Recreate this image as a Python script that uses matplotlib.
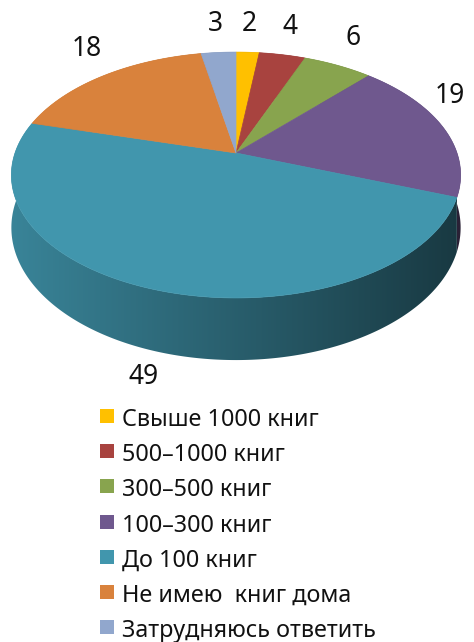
import numpy as np
import matplotlib
matplotlib.use("Agg")
import matplotlib.pyplot as plt
from matplotlib.patches import Polygon, Rectangle
from matplotlib.colors import to_rgb

plt.rcParams['font.family'] = ['Noto Sans', 'DejaVu Sans']

# data (clockwise from 12 o'clock)
labels = ["Свыше 1000 книг", "500–1000 книг", "300–500 книг", "100–300 книг",
          "До 100 книг", "Не имею  книг дома", "Затрудняюсь ответить"]
values = [2, 4, 6, 19, 49, 18, 3]
colors = ["#FFC000", "#A8433F", "#88A44E", "#6F588E", "#4196AD", "#D9823C", "#91A7CD"]

# 3d pie geometry (pixels)
cx, cy = 236, 153
kx, ky = 221, 119
persp = 0.179
thick = 51


def proj(theta, r=1.0):
    d = 1 + persp * r * np.cos(theta)
    return cx + kx * r * np.sin(theta) / d, cy - ky * r * np.cos(theta) / d


fig = plt.figure(figsize=(4.74, 6.42), dpi=100)
ax = fig.add_axes([0, 0, 1, 1])
ax.set_xlim(0, 474)
ax.set_ylim(642, 0)
ax.axis("off")

total = sum(values)
bounds = np.concatenate([[0], np.cumsum(values)]) / total * 2 * np.pi

# side walls: gradient image clipped to each slice's wall, back slices first
xs = np.linspace(0, 474, 300)
shade = np.clip(0.88 - 0.5 * (xs - 10) / 450, 0.3, 1)
mids = [(bounds[i] + bounds[i + 1]) / 2 for i in range(len(values))]
for i in sorted(range(len(values)), key=lambda j: -np.cos(mids[j])):
    th = np.linspace(bounds[i], bounds[i + 1], max(4, values[i] * 8))
    px, py = proj(th)
    drop = thick / (1 + persp * np.cos(th))
    pts = list(zip(px, py)) + list(zip(px[::-1], (py + drop)[::-1]))
    wall = Polygon(pts, closed=True, facecolor="none", edgecolor="none")
    ax.add_patch(wall)
    base = np.array(to_rgb(colors[i]))
    img = (shade[:, None] * base[None, :])[None, :, :]
    im = ax.imshow(img, extent=[0, 474, 400, 0], aspect="auto", interpolation="bilinear")
    im.set_clip_path(wall)

ax.set_xlim(0, 474)
ax.set_ylim(642, 0)

# top face
for i, c in enumerate(colors):
    th = np.linspace(bounds[i], bounds[i + 1], max(4, values[i] * 8))
    px, py = proj(th)
    pts = [(cx, cy)] + list(zip(px, py))
    ax.add_patch(Polygon(pts, closed=True, facecolor=c, edgecolor=c, linewidth=0.5))

# value labels
for i, v in enumerate(values):
    tm = mids[i]
    if np.cos(tm) > 0:
        x = cx + 220 * np.sin(tm)
        y = cy - 93 * np.cos(tm) - 36
    else:
        x, y = proj(tm)
        x, y = x - 11, y + thick / (1 + persp * np.cos(tm)) + 26
    ax.text(x, y, str(v), fontsize=19, ha="center", va="center", color="#111111")

# legend
for i, (lab, c) in enumerate(zip(labels, colors)):
    yc = 416 + i * 35.2
    ax.add_patch(Rectangle((100, yc - 7), 14, 14, facecolor=c, edgecolor="none"))
    ax.text(122, yc + 10, lab, fontsize=16.8, ha="left", va="baseline", color="#111111")

fig.savefig("out.png", dpi=100)
